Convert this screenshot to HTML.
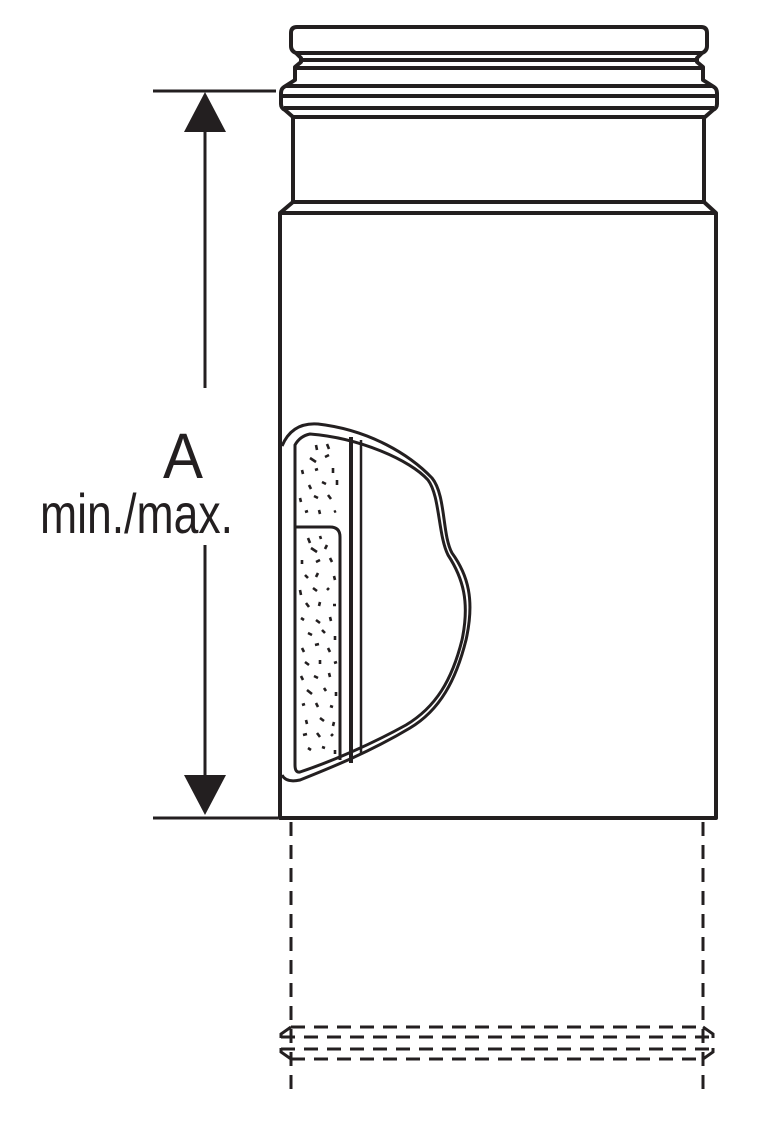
<!DOCTYPE html>
<html><head><style>html,body{margin:0;padding:0;background:#fff;}svg{display:block}</style></head>
<body>
<svg width="763" height="1131" viewBox="0 0 763 1131" xmlns="http://www.w3.org/2000/svg">
<g fill="none" stroke="#231f20" stroke-width="4" stroke-linejoin="round">
  <path d="M297 27 H701 Q707 27 707 33 V46 Q707 51 702 53 L697 58 V62 L703 67 V80 L714 87 Q717 89 717 93 V104 Q717 108 713 110 L705 117 H293 L285 110 Q281 108 281 104 V93 Q281 89 284 87 L295 80 V67 L301 62 V58 L296 53 Q291 51 291 46 V33 Q291 27 297 27 Z"/>
  <line x1="296" y1="53" x2="702" y2="53"/>
  <line x1="299" y1="60" x2="699" y2="60"/>
  <line x1="296" y1="68" x2="702" y2="68"/>
  <line x1="286" y1="86" x2="712" y2="86"/>
  <line x1="283" y1="96" x2="715" y2="96"/>
  <line x1="284" y1="108" x2="714" y2="108"/>
  <path d="M293 117 V202 L280 213 V818 H716 V213 L704 202 V117"/>
  <line x1="293" y1="202" x2="704" y2="202"/>
  <line x1="280" y1="213" x2="716" y2="213"/>
</g>
<g fill="none" stroke="#231f20" stroke-width="3">
  <path d="M282 446 Q292 422 318 424 C370 430 410 455 432 478 C446 495 442 535 452 553 C468 575 475 600 466 640 C456 680 440 710 410 728 C370 752 330 768 300 780 Q286 783 282 775"/>
  <path d="M295 445 Q300 436 310 434 C360 438 410 460 428 480 C440 496 438 535 448 555 C463 578 470 602 462 640 C452 680 436 707 406 725 C370 745 330 762 300 772 Q295 773 295 765 Z"/>
  <line x1="295" y1="527" x2="330" y2="527"/>
  <path d="M330 527 Q340 527 340 537 V760"/>
  <line x1="351" y1="437" x2="351" y2="763" stroke-width="4"/>
  <line x1="361" y1="440" x2="361" y2="753" stroke-width="2.5"/>
</g>
<g stroke="#231f20" stroke-width="2.6">
  <path d="M316 445 l1 5 M327 444 l2 5 M310 458 l6 4 M329 455 l-4 2 M302 470 l1 4 M315 470 l3 -1 M333 468 l0 5 M309 485 l2 4 M322 482 l4 2 M337 480 l0 5 M300 498 l1 4 M314 496 l4 2 M328 495 l3 4 M305 512 l3 -1 M319 510 l1 4 M334 512 l2 -1
  M308 538 l2 5 M320 536 l1 3 M311 548 l6 4 M327 545 l-2 4 M302 560 l0 4 M316 562 l4 -2 M330 558 l2 4 M305 575 l3 3 M318 573 l-2 4 M334 576 l1 4 M300 590 l1 5 M313 588 l4 3 M327 590 l2 -2 M306 603 l3 4 M320 602 l-1 4 M333 605 l3 0 M301 618 l3 2 M316 620 l4 3 M330 617 l1 4 M308 633 l4 2 M322 630 l3 3 M335 636 l0 4 M302 648 l2 4 M315 645 l4 -1 M328 648 l2 4 M305 662 l4 3 M320 660 l0 4 M334 663 l3 -1 M301 676 l2 4 M314 676 l4 2 M329 673 l1 4 M307 690 l5 4 M324 688 l2 3 M336 692 l0 4 M302 705 l3 -1 M316 703 l2 4 M330 706 l3 1 M306 720 l1 4 M320 718 l4 3 M334 722 l-1 4 M303 735 l4 -1 M317 733 l3 4 M331 736 l2 -2 M308 748 l3 2 M322 747 l3 1 M335 750 l0 4"/>
</g>
<g fill="none" stroke="#231f20" stroke-width="3" stroke-dasharray="14 9">
  <line x1="291" y1="822" x2="291" y2="1097"/>
  <line x1="703" y1="822" x2="703" y2="1097"/>
  <line x1="291" y1="1027" x2="703" y2="1027"/>
  <line x1="281" y1="1037" x2="713" y2="1037"/>
  <line x1="281" y1="1049" x2="713" y2="1049"/>
  <line x1="291" y1="1059" x2="703" y2="1059"/>
</g>
<g fill="none" stroke="#231f20" stroke-width="3">
  <path d="M291 1027 L281 1034 V1038"/><path d="M703 1027 L713 1034 V1038"/>
  <path d="M291 1059 L281 1052 V1048"/><path d="M703 1059 L713 1052 V1048"/>
</g>
<g stroke="#231f20" stroke-width="3">
  <line x1="153" y1="91" x2="276" y2="91"/>
  <line x1="153" y1="818" x2="278" y2="818"/>
  <line x1="205" y1="120" x2="205" y2="388"/>
  <line x1="205" y1="545" x2="205" y2="790"/>
</g>
<polygon points="205,92 184,132 226,132" fill="#231f20"/>
<polygon points="205,815 184,775 226,775" fill="#231f20"/>
<text x="163" y="478" font-family="Liberation Sans, sans-serif" font-size="64" fill="#231f20" textLength="40" lengthAdjust="spacingAndGlyphs">A</text>
<text x="40" y="533" font-family="Liberation Sans, sans-serif" font-size="56" fill="#231f20" textLength="193" lengthAdjust="spacingAndGlyphs">min./max.</text>
</svg>
</body></html>
